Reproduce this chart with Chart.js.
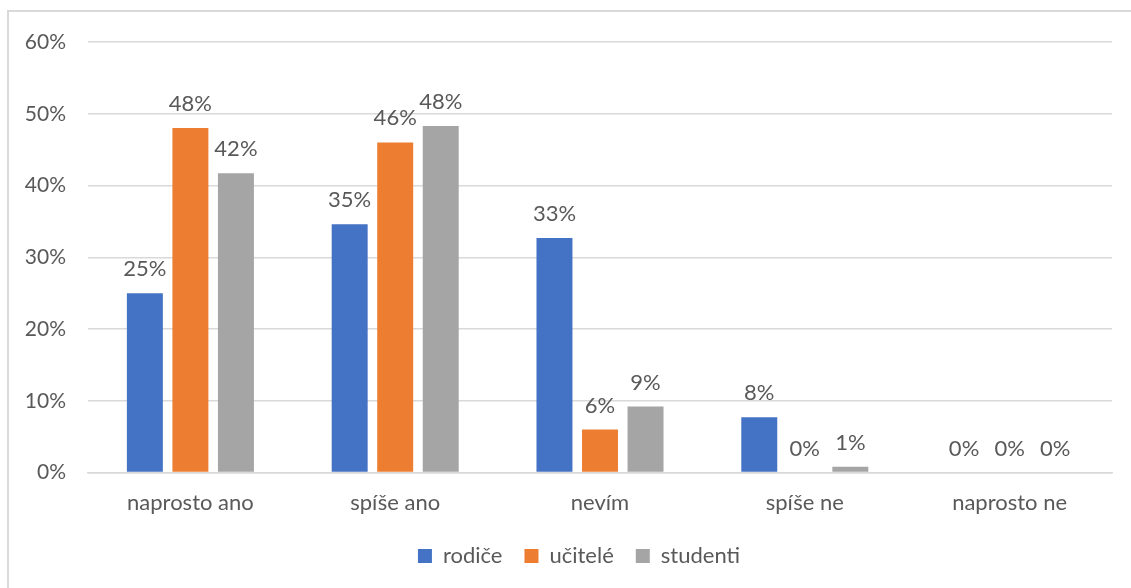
<!DOCTYPE html>
<html lang="cs">
<head>
<meta charset="utf-8">
<title>Graf</title>
<script src="https://cdn.jsdelivr.net/npm/chart.js"></script>
<style>
  body { margin: 0; background: #fff; }
  #wrap { position: relative; width: 1131px; height: 588px; overflow: hidden; }
  #frame { position: absolute; left: 7px; top: 10px; width: 1200px; height: 700px;
           border-left: 2px solid #d9d9d9; border-top: 2px solid #d9d9d9; }
  canvas { position: absolute; left: 0; top: 0; }
</style>
</head>
<body>
<div id="wrap">
  <div id="frame"></div>
  <canvas id="chart" width="1131" height="588"></canvas>
</div>
<script>
// categories and series (percent)
const categories = ['naprosto ano', 'spíše ano', 'nevím', 'spíše ne', 'naprosto ne'];
const rodice = [25, 34.6, 32.7, 7.7, 0];
const ucitele = [48, 46, 6, 0, 0];
const studenti = [41.7, 48.3, 9.2, 0.8, 0];
const yTicks = [0, 10, 20, 30, 40, 50, 60];

const FONT = 'Lato, "Open Sans", sans-serif';
const TEXT = '#595959';
const SIZE = 22;

// draws the value above each bar
const barLabels = {
  id: 'barLabels',
  afterDatasetsDraw(chart) {
    const ctx = chart.ctx;
    ctx.save();
    ctx.font = SIZE + 'px ' + FONT;
    ctx.fillStyle = TEXT;
    ctx.textAlign = 'center';
    ctx.textBaseline = 'alphabetic';
    chart.data.datasets.forEach((ds, i) => {
      chart.getDatasetMeta(i).data.forEach((bar, j) => {
        ctx.fillText(Math.round(ds.data[j]) + '%', bar.x, bar.y - 17);
      });
    });
    ctx.restore();
  }
};

// legend sits a bit right of the canvas centre
const legendShift = {
  id: 'legendShift',
  afterLayout(chart) {
    chart.legend.left += 23;
    chart.legend.right += 23;
  }
};

new Chart(document.getElementById('chart'), {
  type: 'bar',
  data: {
    labels: categories,
    datasets: [
      { label: 'rodiče', data: rodice, backgroundColor: '#4472C4' },
      { label: 'učitelé', data: ucitele, backgroundColor: '#ED7D31' },
      { label: 'studenti', data: studenti, backgroundColor: '#A5A5A5' }
    ]
  },
  options: {
    responsive: false,
    animation: false,
    categoryPercentage: 0.667,
    barPercentage: 0.79,
    layout: { padding: { top: 42, right: 19, bottom: 11, left: 0 } },
    plugins: {
      tooltip: { enabled: false },
      legend: {
        position: 'bottom',
        labels: {
          boxWidth: 14, boxHeight: 14, padding: 22,
          color: TEXT, font: { family: FONT, size: SIZE }
        }
      }
    },
    scales: {
      x: {
        afterFit(scale) { scale.height -= 10; },
        grid: { display: false, drawTicks: false },
        border: { display: true, color: '#d9d9d9', width: 1.5 },
        ticks: { color: TEXT, font: { family: FONT, size: SIZE }, padding: 17 }
      },
      y: {
        min: 0, max: 60,
        afterFit(scale) { scale.width = 88; },
        afterBuildTicks(scale) { scale.ticks = yTicks.map(v => ({ value: v })); },
        grid: { color: '#d9d9d9', lineWidth: 1.5, drawTicks: false },
        border: { display: false },
        ticks: {
          color: TEXT, font: { family: FONT, size: 21 }, padding: 22,
          callback: v => v + '%'
        }
      }
    }
  },
  plugins: [barLabels, legendShift]
});
</script>
</body>
</html>
